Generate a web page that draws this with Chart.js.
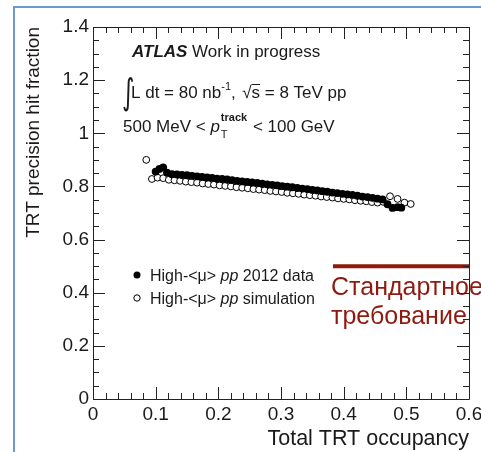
<!DOCTYPE html>
<html>
<head>
<meta charset="utf-8">
<script src="https://cdn.jsdelivr.net/npm/chart.js@4/dist/chart.umd.min.js"></script>
<style>
  html, body { margin: 0; padding: 0; background: #fff; }
</style>
</head>
<body>
<canvas id="chart" width="481" height="452"></canvas>
<script>
// TRT precision hit fraction vs total occupancy, 2012 data
const dataOcc = [0.100, 0.106, 0.112, 0.118, 0.126, 0.134, 0.142, 0.150, 0.158, 0.166,
                 0.174, 0.182, 0.190, 0.198, 0.206, 0.214, 0.222, 0.230, 0.238, 0.246,
                 0.254, 0.262, 0.270, 0.278, 0.286, 0.294, 0.302, 0.310, 0.318, 0.326,
                 0.334, 0.342, 0.350, 0.358, 0.366, 0.374, 0.382, 0.390, 0.398, 0.406,
                 0.414, 0.422, 0.430, 0.438, 0.446, 0.454, 0.462, 0.470, 0.478, 0.486,
                 0.492];
const dataFrac = [0.856, 0.866, 0.872, 0.852, 0.846, 0.845, 0.843, 0.842, 0.840, 0.838,
                  0.836, 0.834, 0.832, 0.829, 0.828, 0.826, 0.824, 0.821, 0.819, 0.817,
                  0.815, 0.813, 0.810, 0.808, 0.806, 0.804, 0.801, 0.799, 0.797, 0.794,
                  0.792, 0.790, 0.787, 0.785, 0.782, 0.780, 0.777, 0.775, 0.772, 0.770,
                  0.768, 0.765, 0.762, 0.760, 0.757, 0.754, 0.751, 0.733, 0.719, 0.722,
                  0.720];

// simulation
const simOcc = [0.085, 0.094, 0.103, 0.112, 0.121, 0.130, 0.139, 0.148, 0.157, 0.166,
                0.175, 0.184, 0.193, 0.202, 0.211, 0.220, 0.229, 0.238, 0.247, 0.256,
                0.265, 0.274, 0.283, 0.292, 0.301, 0.310, 0.319, 0.328, 0.337, 0.346,
                0.355, 0.364, 0.373, 0.382, 0.391, 0.400, 0.409, 0.418, 0.427, 0.436,
                0.445, 0.454, 0.463, 0.474, 0.486, 0.497, 0.507];
const simFrac = [0.900, 0.828, 0.833, 0.831, 0.825, 0.823, 0.821, 0.818, 0.816, 0.814,
                 0.811, 0.809, 0.807, 0.804, 0.802, 0.800, 0.797, 0.795, 0.793, 0.790,
                 0.788, 0.786, 0.783, 0.781, 0.779, 0.776, 0.774, 0.772, 0.769, 0.767,
                 0.765, 0.762, 0.760, 0.758, 0.755, 0.753, 0.751, 0.748, 0.746, 0.744,
                 0.741, 0.739, 0.742, 0.763, 0.753, 0.739, 0.734];

// standard requirement level
const cutLevel = 0.5;
const cutFrom = 0.383;

const xMax = 0.6, xStep = 0.1, xMinor = 0.02;
const yMax = 1.4, yStep = 0.2, yMinor = 0.05;

const FONT = '"Liberation Sans", Arial, sans-serif';
const RED = '#8e1a10';

function pts(xs, ys) {
  return xs.map((x, i) => ({x: x, y: ys[i]}));
}

function runs(ctx, x, y, parts) {
  for (const p of parts) {
    ctx.font = p.font;
    ctx.fillText(p.t, x, y + (p.dy || 0));
    x += ctx.measureText(p.t).width;
  }
  return x;
}

const decor = {
  id: 'decor',
  beforeDraw(chart) {
    const c = chart.ctx;
    c.save();
    c.strokeStyle = '#6a98cf';
    c.lineWidth = 2;
    c.beginPath();
    c.moveTo(14, 452);
    c.lineTo(14, 7);
    c.lineTo(481, 7);
    c.stroke();
    c.restore();
  },
  afterDraw(chart) {
    const c = chart.ctx;
    const a = chart.chartArea;
    const xs = chart.scales.x, ys = chart.scales.y;
    c.save();

    // labels in the plot
    c.fillStyle = '#1a1a1a';
    c.textBaseline = 'alphabetic';
    const f17 = '17px ' + FONT;
    const f11 = '11px ' + FONT;
    runs(c, 132, 57, [
      {t: 'ATLAS', font: 'italic bold 17px ' + FONT},
      {t: ' Work in progress', font: f17}
    ]);

    // integral sign, stretched tall and thin
    c.save();
    c.translate(122, 104);
    c.scale(0.7, 1.05);
    c.font = '34px "DejaVu Sans", sans-serif';
    c.fillText('\u222B', 0, 0);
    c.restore();

    let x = runs(c, 131, 98, [
      {t: 'L dt = 80 nb', font: f17},
      {t: '-1', font: f11, dy: -8},
      {t: ',  ', font: f17}
    ]);
    c.font = f17;
    c.fillText('\u221A', x - 3, 98);
    const sx = x + c.measureText('\u221A').width - 3;
    c.fillText('s', sx, 98);
    c.lineWidth = 1;
    c.strokeStyle = '#1a1a1a';
    c.beginPath();
    c.moveTo(sx, 84.5);
    c.lineTo(sx + c.measureText('s').width, 84.5);
    c.stroke();
    runs(c, sx + c.measureText('s').width, 98, [{t: ' = 8 TeV pp', font: f17}]);

    x = runs(c, 123, 132, [
      {t: '500 MeV < ', font: f17},
      {t: 'p', font: 'italic 17px ' + FONT}
    ]);
    runs(c, x + 1, 132, [{t: 'T', font: f11, dy: 6}]);
    x = runs(c, x + 1, 132, [{t: 'track', font: 'bold 11px ' + FONT, dy: -11}]);
    runs(c, x + 1, 132, [{t: ' < 100 GeV', font: f17}]);

    // legend
    const f16 = '16px ' + FONT, f16i = 'italic 16px ' + FONT;
    c.fillStyle = '#000';
    c.beginPath();
    c.arc(137, 275, 3.5, 0, Math.PI * 2);
    c.fill();
    c.fillStyle = '#fff';
    c.strokeStyle = '#000';
    c.beginPath();
    c.arc(137, 298, 3.2, 0, Math.PI * 2);
    c.fill();
    c.stroke();
    c.fillStyle = '#1a1a1a';
    runs(c, 150, 281, [
      {t: 'High-<\u03BC> ', font: f16}, {t: 'pp', font: f16i}, {t: ' 2012 data', font: f16}
    ]);
    runs(c, 150, 304, [
      {t: 'High-<\u03BC> ', font: f16}, {t: 'pp', font: f16i}, {t: ' simulation', font: f16}
    ]);

    // standard requirement note
    c.fillStyle = RED;
    c.font = '25px ' + FONT;
    c.fillText('Стандартное', 331, 295);
    c.fillText('требование', 331, 324);

    // frame and inward ticks
    c.strokeStyle = '#222';
    c.lineWidth = 1;
    c.beginPath();
    c.rect(Math.round(a.left) + 0.5, Math.round(a.top) + 0.5,
           Math.round(a.right - a.left), Math.round(a.bottom - a.top));
    for (let i = 0; i * xMinor <= xMax + 1e-9; i++) {
      const v = i * xMinor;
      const px = Math.round(xs.getPixelForValue(v)) + 0.5;
      const len = (i % 5 === 0) ? 12 : 6;
      c.moveTo(px, a.bottom); c.lineTo(px, a.bottom - len);
      c.moveTo(px, a.top); c.lineTo(px, a.top + len);
    }
    for (let i = 0; i * yMinor <= yMax + 1e-9; i++) {
      const v = i * yMinor;
      const py = Math.round(ys.getPixelForValue(v)) + 0.5;
      const len = (i % 4 === 0) ? 12 : 6;
      c.moveTo(a.left, py); c.lineTo(a.left + len, py);
      c.moveTo(a.right, py); c.lineTo(a.right - len, py);
    }
    c.stroke();
    c.restore();
  }
};

const ctx = document.getElementById('chart');
new Chart(ctx, {
  type: 'scatter',
  data: {
    datasets: [
      {
        label: 'High-<\u03BC> pp 2012 data',
        data: pts(dataOcc, dataFrac),
        pointRadius: 3.9,
        pointBackgroundColor: '#000',
        pointBorderColor: '#000',
        pointBorderWidth: 0
      },
      {
        label: 'High-<\u03BC> pp simulation',
        data: pts(simOcc, simFrac),
        pointRadius: 3.4,
        pointBackgroundColor: '#fff',
        pointBorderColor: '#000',
        pointBorderWidth: 1
      },
      {
        label: 'cut',
        data: [{x: cutFrom, y: cutLevel}, {x: xMax, y: cutLevel}],
        showLine: true,
        borderColor: RED,
        borderWidth: 4,
        pointRadius: 0
      }
    ]
  },
  options: {
    responsive: false,
    animation: false,
    layout: {autoPadding: false, padding: {top: 27, right: 12, left: 0, bottom: 0}},
    plugins: {legend: {display: false}, tooltip: {enabled: false}},
    scales: {
      x: {
        type: 'linear',
        min: 0, max: xMax,
        grid: {display: false, drawTicks: false},
        border: {display: false},
        ticks: {
          stepSize: xStep, padding: 4, color: '#1a1a1a',
          font: {family: FONT, size: 19},
          maxRotation: 0,
          callback: v => String(+v.toFixed(1))
        },
        title: {
          display: true, text: 'Total TRT occupancy', align: 'end',
          color: '#1a1a1a', font: {family: FONT, size: 21.5}, padding: {top: 0, bottom: 0}
        },
        afterFit: s => { s.height = 53; s.paddingLeft = 0; s.paddingRight = 0; }
      },
      y: {
        min: 0, max: yMax,
        grid: {display: false, drawTicks: false},
        border: {display: false},
        ticks: {
          stepSize: yStep, padding: 4, color: '#1a1a1a',
          font: {family: FONT, size: 19},
          callback: v => String(+v.toFixed(1))
        },
        title: {
          display: true, text: 'TRT precision hit fraction', align: 'end',
          color: '#1a1a1a', font: {family: FONT, size: 19}, padding: {top: 22, bottom: 0}
        },
        afterFit: s => { s.width = 93; s.paddingTop = 0; s.paddingBottom = 0; }
      }
    }
  },
  plugins: [decor]
});
</script>
</body>
</html>
